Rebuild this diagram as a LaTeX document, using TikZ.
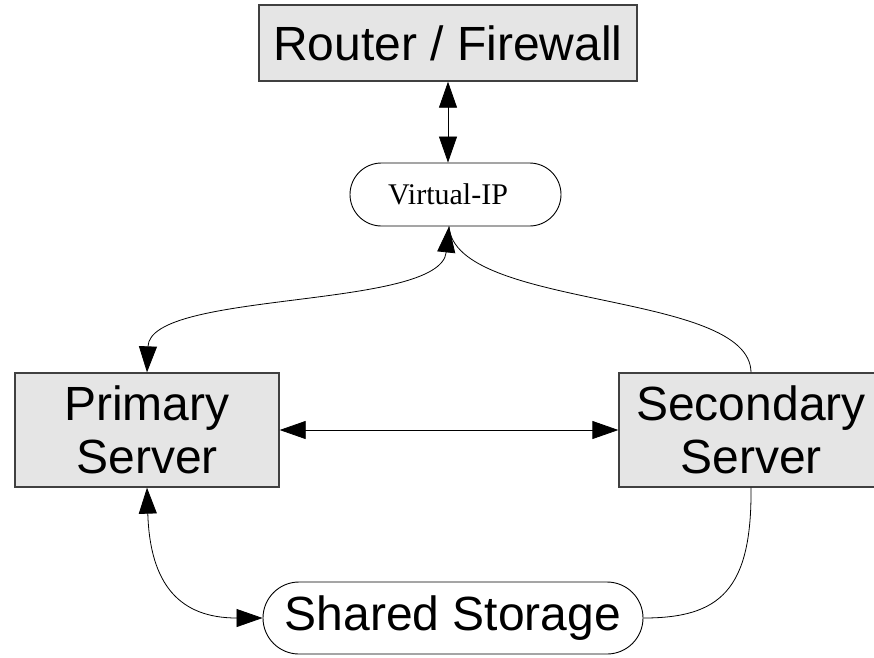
\documentclass[tikz,border=0pt]{standalone}
\usepackage{fontspec}
\setmainfont{Liberation Serif}
\newfontfamily\sansf{Liberation Sans}
\usetikzlibrary{arrows.meta}
\begin{document}
\begin{tikzpicture}[x=1pt,y=-1pt,
  >={Triangle[length=26pt,width=18pt]},
  boxnode/.style={draw=black!75, line width=1.3pt, fill=black!10, inner sep=0pt,
    minimum width=#1, align=center, font=\sansf\fontsize{48}{53}\selectfont},
  pill/.style={draw=black, line width=0.9pt, fill=white, inner sep=0pt, align=center},
  conn/.style={line width=0.8pt, black}
]
\clip (0,0) rectangle (874,657);
\fill[white] (0,0) rectangle (874,657);

\node[boxnode=378pt, minimum height=76pt] (router) at (448,43) {Router / Firewall};
\node[pill, minimum width=211pt, minimum height=63pt, rounded corners=31.5pt] (vip) at (455.5,194.5) {};
\node[inner sep=0pt, font=\fontsize{30}{34}\selectfont] (viptext) at (448,194.5) {Virtual-IP};
\node[boxnode=264pt, minimum height=114pt] (primary) at (147,430) {Primary\\Server};
\node[boxnode=264pt, minimum height=114pt] (secondary) at (751,430) {Secondary\\Server};
\node[pill, minimum width=380pt, minimum height=72pt, rounded corners=36pt,
  font=\sansf\fontsize{48}{53}\selectfont] (storage) at (453,618) {Shared Storage};

\coordinate (vipN) at (vip.north -| router.south);
\coordinate (vipS) at ([xshift=1pt]vip.south -| router.south);

\draw[conn,<->] (router.south) -- (vipN);
\draw[conn,<->] (vipS) .. controls (440,310) and (150,290) .. (primary.north);
\draw[conn] (vipS) .. controls (455,310) and (750,290) .. (secondary.north);
\draw[conn,<->] (primary.east) -- (secondary.west);
\draw[conn,<->] (primary.south) .. controls (150,585) and (180,618) .. (storage.west);
\draw[conn] (secondary.south) .. controls (752,590) and (720,618) .. (storage.east);
\end{tikzpicture}
\end{document}
